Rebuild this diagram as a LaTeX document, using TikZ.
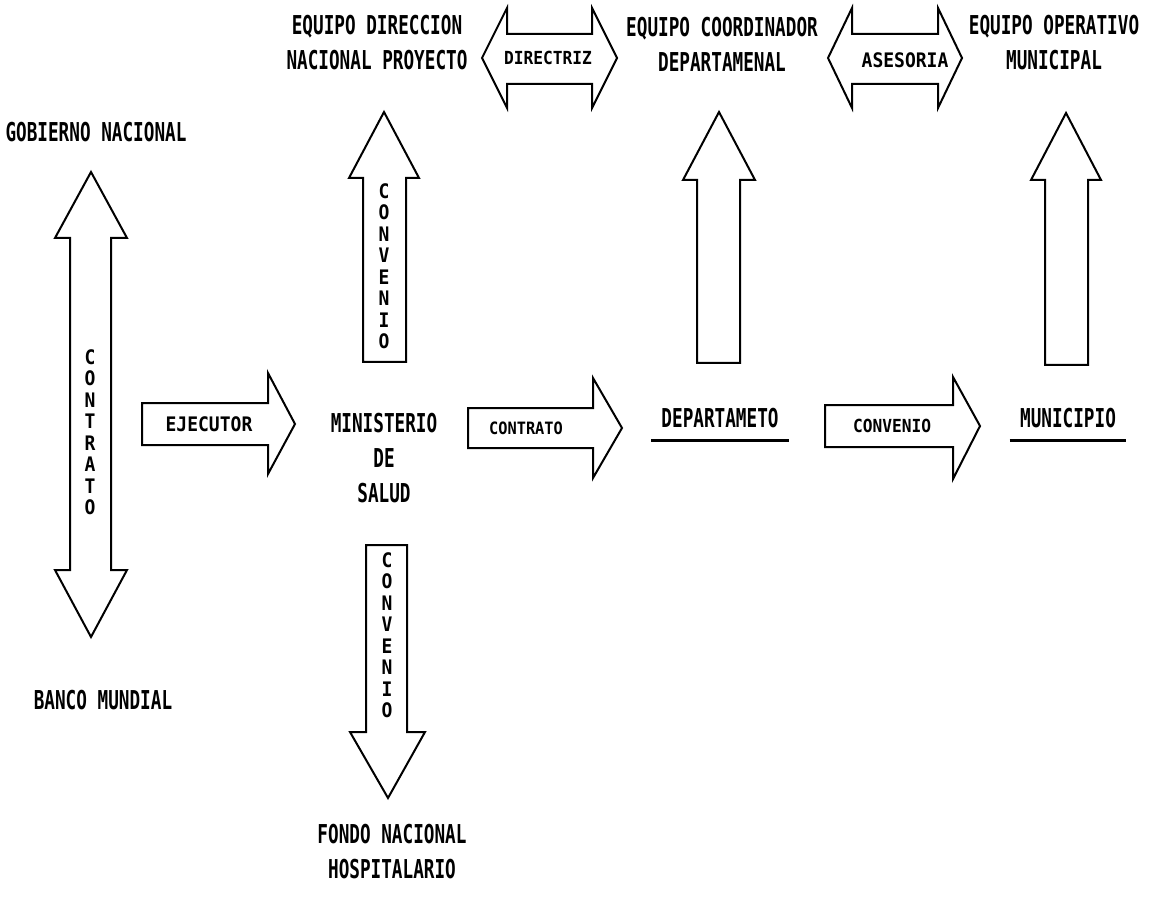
\documentclass[tikz,border=0pt]{standalone}
\usepackage{fontspec}
\newfontfamily\typo[FakeStretch=0.68]{DejaVu Sans Mono}
\newfontfamily\typosm[FakeStretch=0.9]{DejaVu Sans Mono}

\begin{document}
\begin{tikzpicture}[
    x=0.5pt, y=-0.5pt,
    every node/.style={inner sep=0pt},
    txt/.style={
        font=\typo\bfseries\fontsize{13}{17.5}\selectfont,
        align=center
    },
    ulined/.style={txt, inner xsep=5pt, inner ysep=6pt},
    arrowlbl/.style={font=\typosm\bfseries\fontsize{#1}{#1}\selectfont},
    arrowlbl/.default=9,
    vlbl/.style={
        font=\typosm\bfseries\fontsize{10}{10.75}\selectfont,
        align=center
    },
    blk/.style={draw, line width=1pt, line join=miter},
    uline/.style={line width=1.5pt}
]
\useasboundingbox (0,0) rectangle (1154,897);

% entities
\node[txt] (gob) at (96,132) {GOBIERNO NACIONAL};
\node[txt] (banco) at (103,700) {BANCO MUNDIAL};
\node[txt] (edn) at (377,43) {EQUIPO DIRECCION\\NACIONAL PROYECTO};
\node[txt] (ecd) at (722,44) {EQUIPO COORDINADOR\\DEPARTAMENAL};
\node[txt] (eom) at (1054,43) {EQUIPO OPERATIVO\\MUNICIPAL};
\node[txt] (min) at (384,458) {MINISTERIO\\DE\\SALUD};
\node[ulined] (dep) at (720,418) {DEPARTAMETO};
\node[ulined] (mun) at (1068,418) {MUNICIPIO};
\node[txt] (fnh) at (392,852) {FONDO NACIONAL\\HOSPITALARIO};

\draw[uline] (dep.south west) -- (dep.south east);
\draw[uline] (mun.south west) -- (mun.south east);

% gobierno <-> banco
\draw[blk] (91,172) -- (127,238) -- (111,238) -- (111,570) -- (127,570)
    -- (91,637) -- (55,570) -- (70,570) -- (70,238) -- (55,238) -- cycle;
\node[vlbl] (contr1) at (90,432) {C\\O\\N\\T\\R\\A\\T\\O};

% horizontal flow
\draw[blk] (142,403) -- (268,403) -- (268,373) -- (295,424) -- (268,474)
    -- (268,445) -- (142,445) -- cycle;
\node[arrowlbl=10] (ejec) at (209,424) {EJECUTOR};

\draw[blk] (468,408) -- (593,408) -- (593,378) -- (622,428) -- (593,478)
    -- (593,448) -- (468,448) -- cycle;
\node[arrowlbl=8.5] (contr2) at (526,428) {CONTRATO};

\draw[blk] (825,405) -- (953,405) -- (953,377) -- (980,426) -- (953,479)
    -- (953,447) -- (825,447) -- cycle;
\node[arrowlbl] (conv1) at (892,426) {CONVENIO};

% vertical arrows up
\draw[blk] (384,112) -- (419,178) -- (406,178) -- (406,362) -- (363,362)
    -- (363,178) -- (349,178) -- cycle;
\node[vlbl] (conv2) at (384,266) {C\\O\\N\\V\\E\\N\\I\\O};

\draw[blk] (719,112) -- (755,180) -- (740,180) -- (740,363) -- (697,363)
    -- (697,180) -- (683,180) -- cycle;

\draw[blk] (1066,113) -- (1101,180) -- (1088,180) -- (1088,365) -- (1045,365)
    -- (1045,180) -- (1031,180) -- cycle;

% arrow down to fondo
\draw[blk] (366,545) -- (407,545) -- (407,732) -- (425,732) -- (388,798)
    -- (350,732) -- (366,732) -- cycle;
\node[vlbl] (conv3) at (387,635) {C\\O\\N\\V\\E\\N\\I\\O};

% equipos
\draw[blk] (482,58) -- (507,8) -- (507,34) -- (592,34) -- (592,8) -- (617,58)
    -- (592,108) -- (592,84) -- (507,84) -- (507,108) -- cycle;
\node[arrowlbl] (direc) at (548,58) {DIRECTRIZ};

\draw[blk] (828,58) -- (852,8) -- (852,34) -- (938,34) -- (938,8) -- (962,58)
    -- (938,108) -- (938,84) -- (852,84) -- (852,108) -- cycle;
\node[arrowlbl=10] (ases) at (905,60) {ASESORIA};

\end{tikzpicture}
\end{document}
